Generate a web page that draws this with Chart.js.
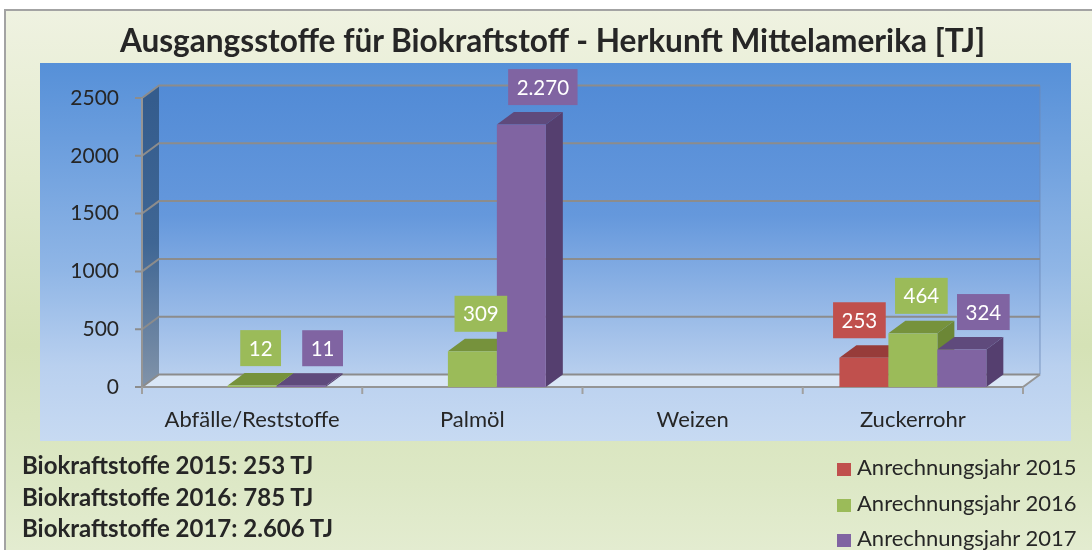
<!DOCTYPE html>
<html>
<head>
<meta charset="utf-8">
<script src="https://cdn.jsdelivr.net/npm/chart.js@4"></script>
<style>
  html, body { margin: 0; padding: 0; background: #ffffff; }
  #wrap { position: relative; width: 1092px; height: 550px; overflow: hidden; background: #ffffff; font-family: Lato, "Noto Sans", sans-serif; color: #262626; }
  #frame { position: absolute; left: 4px; top: 9px; width: 1100px; height: 560px; box-sizing: border-box;
    border-left: 2px solid #a3a3a3; border-top: 2px solid #a3a3a3;
    background: linear-gradient(180deg, #eff2e1 0%, #e3ebcc 30%, #d5e2b6 60%, #dde8c6 85%, #e5edd3 100%); }
  #plotbg { position: absolute; left: 40px; top: 63px; width: 1031px; height: 378px;
    background: linear-gradient(180deg, #5690d8 0%, #6a9ddd 20%, #90b6e6 55%, #b9d0ef 80%, #c7daf2 100%); }
  #c { position: absolute; left: 0; top: 0; }
  #title { position: absolute; left: 0; width: 1105px; top: 20px; line-height: 40px; text-align: center; font-weight: 700; font-size: 31.6px; color: #262626; white-space: nowrap; }
  .note { position: absolute; left: 22px; font-weight: 700; font-size: 24px; line-height: 30px; white-space: nowrap; color: #262626; }
  .leg { position: absolute; left: 837px; font-size: 22px; line-height: 30px; white-space: nowrap; color: #262626; }
  .leg span.sw { display: inline-block; width: 14px; height: 13px; margin-right: 6px; vertical-align: -1px; }
</style>
</head>
<body>
<div id="wrap">
  <div id="frame"></div>
  <div id="plotbg"></div>
  <canvas id="c" width="1092" height="550"></canvas>
  <div id="title"></div>
  <div id="notes"></div>
  <div id="legend"></div>
</div>
<script>
// ---- data ----
const titleText = 'Ausgangsstoffe für Biokraftstoff - Herkunft Mittelamerika [TJ]';
const categories = ['Abfälle/Reststoffe', 'Palmöl', 'Weizen', 'Zuckerrohr'];
const seriesNames = ['Anrechnungsjahr 2015', 'Anrechnungsjahr 2016', 'Anrechnungsjahr 2017'];
const values2015 = [null, null, null, 253];
const values2016 = [12, 309, null, 464];
const values2017 = [11, 2270, null, 324];
const yTicks = [0, 500, 1000, 1500, 2000, 2500];
const totalYears = [2015, 2016, 2017];
const totalValues = [253, 785, 2606];

// ---- styles ----
const frontColors = ['#c0504d', '#9bbb59', '#8064a2'];
const topColors = ['#973c3a', '#76923c', '#5f4a7c'];
const sideColors = ['#8a3735', '#6c8736', '#553f6f'];
const FONT = 'Lato, "Noto Sans", sans-serif';
const DX = 17, DY = 12.5;
const LABEL_SPREAD = 13;

function fmt(v) { return String(v).replace(/\B(?=(\d{3})+(?!\d))/g, '.'); }

document.getElementById('title').textContent = titleText;
const notes = document.getElementById('notes');
totalYears.forEach((yr, i) => {
  const d = document.createElement('div');
  d.className = 'note';
  d.style.top = (450 + i * 31.5) + 'px';
  d.textContent = 'Biokraftstoffe ' + yr + ': ' + fmt(totalValues[i]) + ' TJ';
  notes.appendChild(d);
});
const legend = document.getElementById('legend');
seriesNames.forEach((n, i) => {
  const d = document.createElement('div');
  d.className = 'leg';
  d.style.top = (452 + i * 35.5) + 'px';
  const sw = document.createElement('span');
  sw.className = 'sw';
  sw.style.background = frontColors[i];
  d.appendChild(sw);
  d.appendChild(document.createTextNode(n));
  legend.appendChild(d);
});

const bars3d = {
  id: 'bars3d',
  beforeDatasetsDraw(chart) {
    const ctx = chart.ctx;
    const { left, right, bottom } = chart.chartArea;
    const ys = chart.scales.y;
    const yTop = ys.getPixelForValue(yTicks[yTicks.length - 1]);
    ctx.save();
    // back wall
    let g = ctx.createLinearGradient(0, yTop - DY, 0, bottom - DY);
    g.addColorStop(0, '#528bd6');
    g.addColorStop(0.45, '#6598dc');
    g.addColorStop(1, '#b8cfee');
    ctx.fillStyle = g;
    ctx.fillRect(left + DX, yTop - DY, right - left, bottom - yTop);
    // left wall
    g = ctx.createLinearGradient(0, yTop, 0, bottom);
    g.addColorStop(0, '#345c8d');
    g.addColorStop(0.5, '#3f6694');
    g.addColorStop(1, '#8193a9');
    ctx.fillStyle = g;
    ctx.beginPath();
    ctx.moveTo(left, yTop); ctx.lineTo(left + DX, yTop - DY);
    ctx.lineTo(left + DX, bottom - DY); ctx.lineTo(left, bottom); ctx.closePath();
    ctx.fill();
    // floor
    ctx.fillStyle = '#d9e6f6';
    ctx.beginPath();
    ctx.moveTo(left, bottom); ctx.lineTo(left + DX, bottom - DY);
    ctx.lineTo(right + DX, bottom - DY); ctx.lineTo(right, bottom); ctx.closePath();
    ctx.fill();
    // back-right edge
    ctx.strokeStyle = 'rgba(110,140,185,0.55)';
    ctx.lineWidth = 1.5;
    ctx.beginPath(); ctx.moveTo(right + DX, yTop - DY); ctx.lineTo(right + DX, bottom - DY); ctx.stroke();
    // gridlines
    ctx.strokeStyle = '#8c8c8c';
    ctx.lineWidth = 2;
    yTicks.forEach(v => {
      const py = ys.getPixelForValue(v);
      ctx.beginPath();
      ctx.moveTo(left - 7, py); ctx.lineTo(left, py);
      ctx.lineTo(left + DX, py - DY); ctx.lineTo(right + DX, py - DY);
      ctx.stroke();
    });
    // front axes
    ctx.strokeStyle = '#959595';
    ctx.beginPath();
    ctx.moveTo(left, yTop); ctx.lineTo(left, bottom);
    ctx.lineTo(right, bottom); ctx.lineTo(right + DX, bottom - DY);
    ctx.stroke();
    // category ticks
    const n = categories.length;
    ctx.strokeStyle = '#a0a0a0';
    for (let i = 0; i <= n; i++) {
      const px = left + (right - left) * i / n;
      ctx.beginPath(); ctx.moveTo(px, bottom); ctx.lineTo(px, bottom + 7); ctx.stroke();
    }
    // bars (side + top + front), left to right
    const labels = [];
    for (let i = 0; i < n; i++) {
      chart.data.datasets.forEach((ds, di) => {
        const v = ds.data[i];
        if (v === null || v === undefined) return;
        const el = chart.getDatasetMeta(di).data[i];
        const p = el.getProps(['x', 'y', 'base', 'width'], true);
        const x0 = p.x - p.width / 2, x1 = p.x + p.width / 2;
        const yt = p.y, yb = p.base;
        ctx.fillStyle = sideColors[di];
        ctx.beginPath();
        ctx.moveTo(x1, yt); ctx.lineTo(x1 + DX, yt - DY); ctx.lineTo(x1 + DX, yb - DY); ctx.lineTo(x1, yb); ctx.closePath();
        ctx.fill();
        ctx.fillStyle = topColors[di];
        ctx.beginPath();
        ctx.moveTo(x0, yt); ctx.lineTo(x1, yt); ctx.lineTo(x1 + DX, yt - DY); ctx.lineTo(x0 + DX, yt - DY); ctx.closePath();
        ctx.fill();
        ctx.fillStyle = frontColors[di];
        ctx.fillRect(x0, yt, x1 - x0, yb - yt);
        labels.push({ x: p.x + DX / 2 + (di - 1) * LABEL_SPREAD, y: yt - DY - 7, text: fmt(v), color: frontColors[di] });
      });
    }
    // data labels
    ctx.font = '20.5px ' + FONT;
    ctx.textAlign = 'center';
    ctx.textBaseline = 'middle';
    labels.forEach(l => {
      const tw = ctx.measureText(l.text).width;
      const w = tw + 17, h = 36;
      ctx.fillStyle = l.color;
      ctx.fillRect(l.x - w / 2, l.y - h, w, h);
      ctx.fillStyle = '#ffffff';
      ctx.fillText(l.text, l.x, l.y - h / 2 + 1);
    });
    ctx.restore();
    return false;
  }
};

new Chart(document.getElementById('c'), {
  type: 'bar',
  data: {
    labels: categories,
    datasets: [
      { label: seriesNames[0], data: values2015, backgroundColor: frontColors[0] },
      { label: seriesNames[1], data: values2016, backgroundColor: frontColors[1] },
      { label: seriesNames[2], data: values2017, backgroundColor: frontColors[2] }
    ]
  },
  options: {
    responsive: false,
    devicePixelRatio: 1,
    animation: false,
    layout: { padding: { left: 0, right: 69, top: 98, bottom: 0 } },
    plugins: { legend: { display: false }, title: { display: false }, tooltip: { enabled: false } },
    datasets: { bar: { barPercentage: 1.0, categoryPercentage: 0.667 } },
    scales: {
      x: {
        grid: { display: false, drawTicks: false },
        border: { display: false },
        ticks: { color: '#262626', font: { family: FONT, size: 22 }, padding: 20, maxRotation: 0 },
        afterFit(scale) { scale.height = 163; }
      },
      y: {
        min: 0, max: 2500,
        afterBuildTicks(scale) { scale.ticks = yTicks.map(v => ({ value: v })); },
        grid: { display: false, drawTicks: false },
        border: { display: false },
        ticks: { color: '#262626', font: { family: FONT, size: 21 }, padding: 23, callback: v => String(v) },
        afterFit(scale) { scale.width = 142; }
      }
    }
  },
  plugins: [bars3d]
});
</script>
</body>
</html>
